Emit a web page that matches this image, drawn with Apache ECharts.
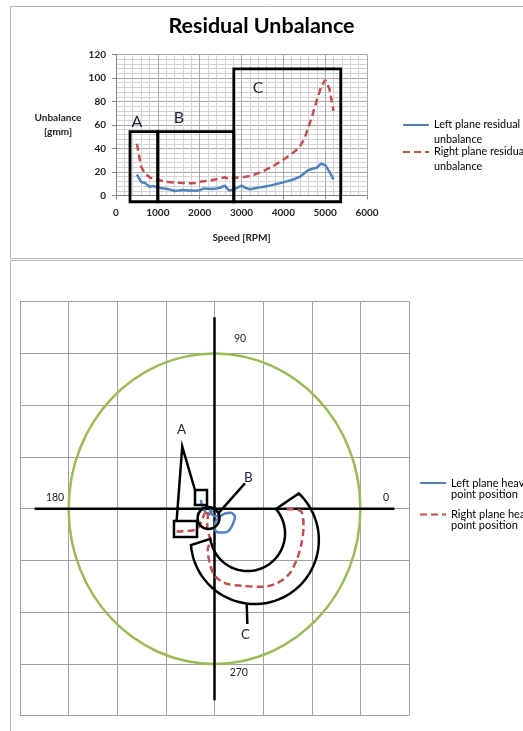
<!DOCTYPE html>
<html><head><meta charset="utf-8">
<script src="https://cdn.jsdelivr.net/npm/echarts@6/dist/echarts.min.js"></script>
<style>html,body{margin:0;padding:0;background:#fff;}#c{width:523px;height:731px;}</style>
</head><body><div id="c"></div>
<script>
// ===== DATA: top chart (Residual Unbalance vs Speed) =====
const speedsRPM = [500,600,700,800,900,1000,1100,1200,1300,1400,1500,1600,1700,1800,1900,2000,2100,2200,2300,2400,2500,2600,2700,2800,2900,3000,3100,3200,3300,3400,3500,3600,3700,3800,3900,4000,4100,4200,4300,4400,4500,4600,4700,4800,4900,5000,5100,5200];
const leftResidual = [18,11.5,10.5,7.5,8,6.7,6.2,5.8,5,3.8,4.2,4.7,4.2,4.2,4,4.5,6,5.8,5.5,6,6.8,8.4,4.3,4.8,6.7,8.4,6.5,5.3,6,6.7,7.2,7.8,8.6,9.5,10.3,11.2,12.2,13.2,14.5,16,19,21.7,22.7,23.7,27,26,20.3,13.8];
const rightResidual = [44,24.5,18.5,15.5,14,13.2,12.5,11.8,11.3,11,10.8,10.6,10.5,10.4,10.7,11.7,12.2,12.6,13.2,13.8,14.6,15.5,14,14.5,15.3,15.6,16,16.6,17.7,19,20.5,22.2,24,26,28.3,30.5,33,35.5,38.2,42,48,58,69,81,92,98.3,91,72];
const speedTicks = [0,1000,2000,3000,4000,5000,6000];
const unbalanceTicks = [0,20,40,60,80,100,120];
const topSeriesNames = ['Left plane residual unbalance','Right plane residual unbalance'];

// ===== DATA: bottom chart (heavy point position) =====
const leftHeavyPoints = [[-0.28,0.17],[-0.25,0.04],[-0.18,-0.07],[-0.11,-0.11],[-0.06,-0.05],[-0.10,-0.02],[-0.04,-0.12],[0.08,-0.15],[0.22,-0.09],[0.34,-0.08],[0.42,-0.16],[0.38,-0.29],[0.31,-0.41],[0.21,-0.46],[0.08,-0.46],[0.00,-0.38],[0.02,-0.26],[0.08,-0.18]];
const rightHeavyPoints = [[-0.78,-0.44],[-0.37,-0.40],[-0.26,-0.22],[-0.20,-0.09],[-0.13,-0.04],[-0.15,-0.38],[-0.09,-0.60],[-0.14,-0.80],[-0.09,-1.08],[0.0,-1.29],[0.22,-1.44],[0.56,-1.49],[0.97,-1.51],[1.24,-1.46],[1.52,-1.28],[1.69,-0.99],[1.79,-0.67],[1.83,-0.35],[1.79,-0.06],[1.59,-0.01],[1.42,-0.01]];
const refCircle = [[0,0,3]];           // centre x, centre y, radius
const crossVertical = [[0,3.7],[0,-3.7]];
const crossHorizontal = [[-3.7,0],[3.7,0]];
const angleLabels = ['90','180','0','270'];
const bottomSeriesNames = ['Left plane heavy point position','Right plane heavy point position'];
const gridTicks = [-4,-3,-2,-1,0,1,2,3,4];

// ===== ANNOTATIONS (drawn shapes, in data units) =====
const topBoxes = [[335,1000,54.3,-5.3],[1000,2816,54.3,-5.3],[2816,5371,107.7,-5.3]];
const topBoxLabels = [['A',502,62.5],['B',1507,66],['C',3397,91.5]];
const angleLabelPos = [[0.525,3.28],[-3.28,0.21],[3.53,0.21],[0.50,-3.16]];
const annA = {callout:[[-0.401,0.361],[-0.663,1.198],[-0.778,-0.218]], rect1:[[-0.401,0.361],[-0.154,0.072]], rect2:[[-0.833,-0.238],[-0.360,-0.547]], label:[-0.675,1.521]};
const annB = {centre:[-0.123,-0.18], r:0.226, line:[[0.078,-0.089],[0.628,0.491]], label:[0.695,0.593]};
const annC = {inner:{c:[0.679,-0.479], r:0.772, a0:40.8, a1:-171.7}, outer:{c:[0.829,-0.605], r:1.317, a0:46.6, a1:-175.4}, stem:[[0.663,-1.828],[0.675,-2.228]], label:[0.64,-2.44]};

const FONT = 'Lato, "Open Sans", sans-serif';
const BLUE = '#4F81BD', RED = '#C0504D', GREEN = '#9BBB59';

const chart = echarts.init(document.getElementById('c'), null, {renderer:'canvas'});

// leading blank line so that the icon lines up with the first text line
function legendFmt(n){ return '\u00a0\n' + n.replace(/ (unbalance|point position)$/, '\n$1'); }

const blackStroke = {fill:'none', stroke:'#000', lineWidth:2.5};
const noSymbol = {opacity:0, color:'transparent', borderWidth:0};

function legendAt(name, left, top, fs, lh){
  return {data:[name], left:left, top:top, padding:0, itemWidth:26, itemHeight:10, formatter:legendFmt,
    itemStyle:noSymbol,
    textStyle:{fontFamily:FONT, fontSize:fs, color:'#000', lineHeight:lh}};
}

const option = {
  animation:false,
  backgroundColor:'#fff',
  title:{text:'Residual Unbalance', left:'center', top:15, padding:0,
    textStyle:{fontFamily:FONT, fontWeight:'bold', fontSize:21.5, color:'#000'}},
  graphic:[
    {type:'rect', silent:true, z:-10, shape:{x:10.5,y:6.5,width:600,height:252}, style:{fill:'none', stroke:'#b5b5b5', lineWidth:1}},
    {type:'rect', silent:true, z:-10, shape:{x:10.5,y:260.5,width:600,height:600}, style:{fill:'none', stroke:'#b5b5b5', lineWidth:1}}
  ],
  legend:[
    legendAt(topSeriesNames[0], 402, 125-22.5, 10.8, 15),
    legendAt(topSeriesNames[1], 402, 152-22.5, 10.8, 15),
    legendAt(bottomSeriesNames[0], 419, 483-16.5, 11, 11),
    legendAt(bottomSeriesNames[1], 419, 514.5-16.5, 11, 11)
  ],
  grid:[
    {left:116, right:156, top:54.5, bottom:535.5, containLabel:false},
    {left:20, right:114, top:301.7, bottom:15.3, containLabel:false}
  ],
  xAxis:[
    {type:'value', gridIndex:0, min:speedTicks[0], max:speedTicks[speedTicks.length-1], interval:1000,
      name:'Speed [RPM]', nameLocation:'middle', nameGap:37,
      nameTextStyle:{fontFamily:FONT, fontWeight:'bold', fontSize:10, color:'#222'},
      axisLine:{show:true, onZero:false, lineStyle:{color:'#868686', width:1}},
      axisTick:{show:true, inside:false, length:4, lineStyle:{color:'#868686'}},
      axisLabel:{fontFamily:FONT, fontWeight:'bold', fontSize:10, color:'#222', margin:12, formatter:v => String(v)},
      splitLine:{show:true, lineStyle:{color:'#a9a9a9', width:1}},
      minorTick:{show:false, splitNumber:5},
      minorSplitLine:{show:true, lineStyle:{color:'#d4d4d4', width:1}}},
    {type:'value', gridIndex:1, min:gridTicks[0], max:gridTicks[gridTicks.length-1], interval:1,
      axisLine:{show:false}, axisTick:{show:false}, axisLabel:{show:false},
      splitLine:{show:true, lineStyle:{color:'#a0a0a0', width:1}}}
  ],
  yAxis:[
    {type:'value', gridIndex:0, min:unbalanceTicks[0], max:unbalanceTicks[unbalanceTicks.length-1], interval:20,
      name:'Unbalance\n[gmm]', nameLocation:'middle', nameGap:58, nameRotate:0,
      nameTextStyle:{fontFamily:FONT, fontWeight:'bold', fontSize:10, color:'#222', lineHeight:14, align:'center'},
      axisLine:{show:true, onZero:false, lineStyle:{color:'#868686', width:1}},
      axisTick:{show:true, inside:false, length:4, lineStyle:{color:'#868686'}},
      axisLabel:{fontFamily:FONT, fontWeight:'bold', fontSize:10, color:'#222', margin:10},
      splitLine:{show:true, lineStyle:{color:'#a9a9a9', width:1}},
      minorTick:{show:false, splitNumber:5},
      minorSplitLine:{show:true, lineStyle:{color:'#d4d4d4', width:1}}},
    {type:'value', gridIndex:1, min:gridTicks[0], max:gridTicks[gridTicks.length-1], interval:1,
      axisLine:{show:false}, axisTick:{show:false}, axisLabel:{show:false},
      splitLine:{show:true, lineStyle:{color:'#a0a0a0', width:1}}}
  ],
  series:[
    // --- top chart data ---
    {name:topSeriesNames[0], type:'line', xAxisIndex:0, yAxisIndex:0, symbol:'none', z:3,
      data:speedsRPM.map((s,i)=>[s,leftResidual[i]]), color:BLUE,
      lineStyle:{color:BLUE, width:2.5}},
    {name:topSeriesNames[1], type:'line', xAxisIndex:0, yAxisIndex:0, symbol:'none', z:3,
      data:speedsRPM.map((s,i)=>[s,rightResidual[i]]), color:RED,
      lineStyle:{color:RED, width:2.5, type:[7,4]}},
    // --- top chart annotation boxes ---
    {type:'custom', xAxisIndex:0, yAxisIndex:0, silent:true, clip:false, z:5,
      encode:{x:[0,1], y:[2,3]},
      data:topBoxes,
      renderItem:function(p, api){
        const a = api.coord([api.value(0), api.value(2)]);
        const b = api.coord([api.value(1), api.value(3)]);
        return {type:'rect', shape:{x:a[0], y:a[1], width:b[0]-a[0], height:b[1]-a[1]},
          style:{fill:'none', stroke:'#000', lineWidth:2.8}};
      }},
    {type:'custom', xAxisIndex:0, yAxisIndex:0, silent:true, clip:false, z:5,
      encode:{x:1, y:2},
      data:topBoxLabels,
      renderItem:function(p, api){
        const item = topBoxLabels[p.dataIndex];
        const c = api.coord([item[1], item[2]]);
        return {type:'text', style:{text:item[0], x:c[0], y:c[1], fill:'#1f2233', fontFamily:FONT, fontSize:16, align:'center', verticalAlign:'middle'}};
      }},
    // --- bottom chart ---
    {type:'custom', xAxisIndex:1, yAxisIndex:1, silent:true, z:2,
      data:refCircle,
      renderItem:function(p, api){
        const c = api.coord([api.value(0), api.value(1)]);
        const s = api.size([api.value(2), api.value(2)]);
        return {type:'ellipse', shape:{cx:c[0], cy:c[1], rx:s[0], ry:s[1]}, style:{fill:'none', stroke:GREEN, lineWidth:2.5}};
      }},
    {type:'line', xAxisIndex:1, yAxisIndex:1, symbol:'none', silent:true, z:3,
      data:crossVertical, lineStyle:{color:'#000', width:2.5, cap:'butt'}},
    {type:'line', xAxisIndex:1, yAxisIndex:1, symbol:'none', silent:true, z:3,
      data:crossHorizontal, lineStyle:{color:'#000', width:2.5, cap:'butt'}},
    {type:'custom', xAxisIndex:1, yAxisIndex:1, silent:true, z:3,
      data:angleLabelPos,
      renderItem:function(p, api){
        const c = api.coord([api.value(0), api.value(1)]);
        return {type:'text', style:{text:angleLabels[p.dataIndex], x:c[0], y:c[1], fill:'#222', fontFamily:FONT, fontSize:10.5, align:'center', verticalAlign:'middle'}};
      }},
    {name:bottomSeriesNames[0], type:'line', xAxisIndex:1, yAxisIndex:1, symbol:'none', z:4, smooth:0.3,
      data:leftHeavyPoints, color:BLUE, lineStyle:{color:BLUE, width:2.5}},
    {name:bottomSeriesNames[1], type:'line', xAxisIndex:1, yAxisIndex:1, symbol:'none', z:4, smooth:0.3,
      data:rightHeavyPoints, color:RED, lineStyle:{color:RED, width:2.5, type:[7,4]}},
    // --- bottom chart annotation shapes ---
    {type:'custom', xAxisIndex:1, yAxisIndex:1, silent:true, clip:false, z:6,
      data:[[0,0]],
      renderItem:function(p, api){
        const P = q => api.coord(q);
        const ch = [];
        ch.push({type:'polyline', shape:{points:annA.callout.map(P)}, style:blackStroke});
        [annA.rect1, annA.rect2].forEach(r => {
          const a = P(r[0]), b = P(r[1]);
          ch.push({type:'rect', shape:{x:Math.min(a[0],b[0]), y:Math.min(a[1],b[1]), width:Math.abs(b[0]-a[0]), height:Math.abs(b[1]-a[1])}, style:blackStroke});
        });
        const bc = P(annB.centre), br = api.size([annB.r,0])[0];
        ch.push({type:'circle', shape:{cx:bc[0], cy:bc[1], r:br}, style:blackStroke});
        ch.push({type:'polyline', shape:{points:annB.line.map(P)}, style:blackStroke});
        const arc = (o, rev) => {
          const c = P(o.c), r = api.size([o.r,0])[0];
          const n = 60, out = [];
          for (let i=0;i<=n;i++){
            const a = (o.a0 + (o.a1-o.a0)*i/n) * Math.PI/180;
            out.push([c[0] + r*Math.cos(a), c[1] - r*Math.sin(a)]);
          }
          return rev ? out.reverse() : out;
        };
        ch.push({type:'polygon', shape:{points:arc(annC.outer,false).concat(arc(annC.inner,true))}, style:blackStroke});
        ch.push({type:'polyline', shape:{points:annC.stem.map(P)}, style:blackStroke});
        [['A',annA.label],['B',annB.label],['C',annC.label]].forEach(l => {
          const c = P(l[1]);
          ch.push({type:'text', style:{text:l[0], x:c[0], y:c[1], fill:'#1f2233', fontFamily:FONT, fontSize:13.5, align:'center', verticalAlign:'middle'}});
        });
        return {type:'group', children:ch};
      }}
  ]
};
chart.setOption(option);
</script>
</body></html>
